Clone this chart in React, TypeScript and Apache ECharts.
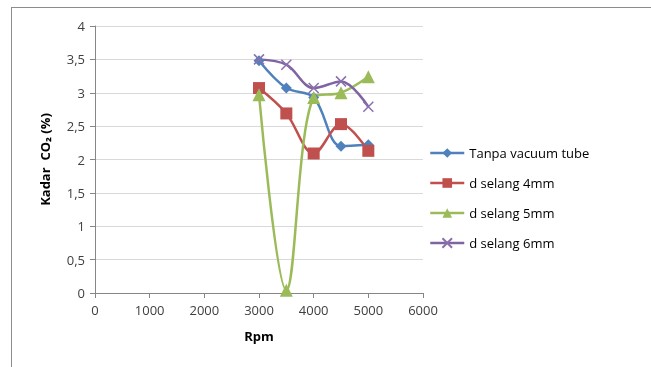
import React, { useEffect, useRef } from "react";
import * as echarts from "echarts";

const rpm = [3000, 3500, 4000, 4500, 5000];
const tanpa = [3.48, 3.07, 2.93, 2.2, 2.22];
const d4 = [3.07, 2.69, 2.09, 2.53, 2.13];
const d5 = [2.97, 0.04, 2.93, 3.0, 3.24];
const d6 = [3.5, 3.42, 3.07, 3.17, 2.79];
const seriesNames = ["Tanpa vacuum tube", "d selang 4mm", "d selang 5mm", "d selang 6mm"];
const xTicks = [0, 1000, 2000, 3000, 4000, 5000, 6000];

const pairs = (ys: number[]) => rpm.map((x, i) => [x, ys[i]]);

export default function App() {
  const ref = useRef<HTMLDivElement>(null);
  useEffect(() => {
    if (!ref.current) return;
    const chart = echarts.init(ref.current, undefined, { renderer: "svg" });
    const font = "'Open Sans', 'Noto Sans', sans-serif";
    const colors = ["#4F81BD", "#C0504D", "#9BBB59", "#8064A2"];
    const xPath = "path://M0,0L10,10M10,0L0,10";
    chart.setOption({
      animation: false,
      textStyle: { fontFamily: font },
      grid: { left: 95, right: 228, top: 26, bottom: 74 },
      graphic: [
        { type: "line", shape: { x1: 11, y1: 7.5, x2: 651, y2: 7.5 }, style: { stroke: "#8c8c8c", lineWidth: 1 } },
        { type: "line", shape: { x1: 11.5, y1: 7, x2: 11.5, y2: 367 }, style: { stroke: "#8c8c8c", lineWidth: 1 } },
      ],
      legend: {
        orient: "vertical",
        left: 424,
        top: 139,
        itemGap: 12,
        itemWidth: 34,
        itemHeight: 12,
        lineStyle: { width: 2.5 },
        textStyle: { fontFamily: font, fontSize: 13, color: "#000", lineHeight: 18 },
        data: seriesNames,
      },
      xAxis: {
        type: "value",
        min: 0,
        max: 6000,
        interval: 1000,
        name: "Rpm",
        nameLocation: "middle",
        nameGap: 36,
        nameTextStyle: { fontWeight: "bold", fontSize: 13, color: "#000", fontFamily: font },
        axisLine: { lineStyle: { color: "#868686" } },
        axisTick: { show: true, length: 5, lineStyle: { color: "#868686" } },
        axisLabel: { color: "#404040", fontSize: 13, margin: 10, formatter: (v: number) => (xTicks.includes(v) ? String(v) : "") },
        splitLine: { show: false },
      },
      yAxis: {
        type: "value",
        min: 0,
        max: 4,
        interval: 0.5,
        name: "Kadar  CO\u2082 (%)",
        nameLocation: "middle",
        nameGap: 44,
        nameTextStyle: { fontWeight: "bold", fontSize: 13, color: "#000", fontFamily: font },
        axisLine: { show: true, lineStyle: { color: "#868686" } },
        axisTick: { show: true, length: 5, lineStyle: { color: "#868686" } },
        axisLabel: { color: "#404040", fontSize: 13, margin: 10, formatter: (v: number) => String(v).replace(".", ",") },
        splitLine: { show: true, lineStyle: { color: "#D9D9D9" } },
      },
      series: [
        {
          name: seriesNames[0], type: "line", data: pairs(tanpa), smooth: 0.35,
          symbol: "diamond", symbolSize: 11,
          lineStyle: { width: 2.5, color: colors[0] }, itemStyle: { color: colors[0] },
        },
        {
          name: seriesNames[1], type: "line", data: pairs(d4), smooth: 0.35,
          symbol: "rect", symbolSize: 12,
          lineStyle: { width: 2.5, color: colors[1] }, itemStyle: { color: colors[1] },
        },
        {
          name: seriesNames[2], type: "line", data: pairs(d5), smooth: 0.35,
          symbol: "triangle", symbolSize: 13,
          lineStyle: { width: 2.5, color: colors[2] }, itemStyle: { color: colors[2] },
        },
        {
          name: seriesNames[3], type: "line", data: pairs(d6), smooth: 0.35,
          symbol: xPath, symbolSize: 10,
          lineStyle: { width: 2.5, color: colors[3] },
          itemStyle: { color: "rgba(0,0,0,0)", borderColor: "#8a70ad", borderWidth: 1.5 },
        },
      ],
    });
    return () => chart.dispose();
  }, []);
  return <div ref={ref} style={{ position: "fixed", left: 0, top: 0, width: 651, height: 367 }} />;
}
